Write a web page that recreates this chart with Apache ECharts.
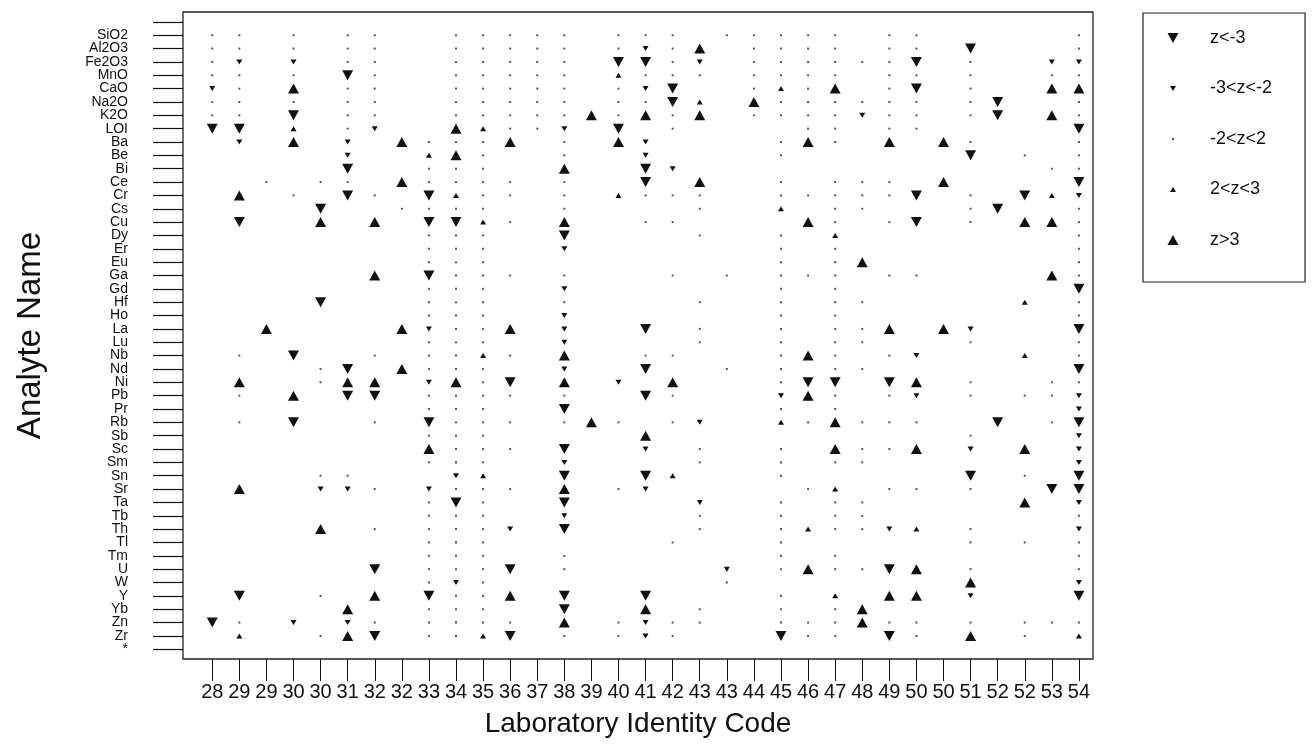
<!DOCTYPE html>
<html><head><meta charset="utf-8">
<script src="https://cdn.jsdelivr.net/npm/echarts@6/dist/echarts.min.js"></script>
<style>html,body{margin:0;padding:0;background:#fff}#chart{width:1316px;height:750px}</style>
</head><body><div id="chart"></div>
<script>
// x categories: laboratory identity codes (one per column)
const labCodes = ['28','29','29','30','30','31','32','32','33','34','35','36','37','38','39','40','41','42','43','43','44','45','46','47','48','49','50','50','51','52','52','53','54'];
// y categories: analytes (top to bottom)
const analytes = ['SiO2','Al2O3','Fe2O3','MnO','CaO','Na2O','K2O','LOI','Ba','Be','Bi','Ce','Cr','Cs','Cu','Dy','Er','Eu','Ga','Gd','Hf','Ho','La','Lu','Nb','Nd','Ni','Pb','Pr','Rb','Sb','Sc','Sm','Sn','Sr','Ta','Tb','Th','Tl','Tm','U','W','Y','Yb','Zn','Zr','*'];
// z-score classes
const classNames = ['z<-3','-3<z<-2','-2<z<2','2<z<3','z>3'];
const classCodes = ['D','d','o','u','U'];
// z-class per analyte (row) and lab (column): D z<-3, d -3..-2, o -2..2, u 2..3, U z>3, . no result
const zRows = [
  "oo.o. oo..o oooo. ooo.o oooo. oo... ..o",
  "oo.o. oo..o oooo. odoU. oooo. oo.D. ..o",
  "od.d. oo..o oooo. DDod. ooooo oD.o. .dd",
  "oo.o. Do..o oooo. uooo. oooo. oo.o. .oo",
  "do.U. oo..o oooo. odD.. ouoU. oD.o. .UU",
  "oo.o. oo..o oooo. ooDu. Uoooo oo.oD ..o",
  "oo.D. oo..o ooooU oUoU. ooood oo.oD .Uo",
  "DD.u. od..U uood. D.o.. ..oo. oo... ..D",
  ".d.U. d.Uoo oU.o. Ud... .oUo. U.Uo. ..o",
  "..... d..uU o..o. .d... .o... ...D. o.o",
  "..... D..oo o..U. .Dd.. ..... ..... .oo",
  "..o.o o.Uoo oo.o. .D.U. .o.oo o.U.. ..D",
  ".U.o. Do.Du oo.o. uooo. .oooo oD.o. Dud",
  "....D ..ooo o..o. ...o. .u.oo ...oD ..o",
  ".D..U .U.DD uo.U. .oo.. ..Uo. oD.o. UUo",
  "..... ...oo o..D. ...o. .o.u. ..... ..o",
  "..... ...oo o..d. ..... .o.o. ..... ..o",
  "..... ...oo o.... ..... .o.oU ..... ..o",
  "..... .U.Do oo.o. ..o.o .ooo. oo... .Uo",
  "..... ...oo o..d. ..... .o.o. ..... ..D",
  "....D ...oo o..o. ...o. .o.oo ..... u.o",
  "..... ...oo o..d. ..... .o.o. ..... ..o",
  "..U.. ..Udo oU.d. .D.o. .o.oo U.Ud. ..D",
  "..... ...oo o..d. ...o. .o.oo ...o. ..o",
  ".o.D. .o.oo uo.U. .oo.. .oUo. od... u.o",
  "....o D.Uoo o..d. .D..o .o.oo ..... ..D",
  ".U..o UU.dU oD.U. d.U.. .oDD. DU.o. .oo",
  ".o.U. DD.oo oo.o. .Do.. .dUo. od.o. ood",
  "..... ...oo o..D. ..... .o.o. ..... ..d",
  ".o.D. .o.Do oo.oU o.od. .uoUo oo..D .oD",
  "..... ...oo o.... .U... ..... ...o. ..d",
  "..... ...Uo oo.D. .d.o. .o.Uo oU.d. U.d",
  "..... ...oo o..d. ...o. .o.oo ..... ..d",
  "....o o...d u..D. .Du.. .o... ...D. o.D",
  ".U..d do.do oo.U. od... ..ou. oo.o. .DD",
  "..... ...oD o..D. ...d. .o.oo ..... U.d",
  "..... ...oo o..d. ...o. .o.oo ..... ..o",
  "....U .o.oo od.D. ...o. .ouoo du.o. ..d",
  "..... ...oo o.... ..o.. .o... ...o. o.o",
  "..... ...oo o..o. ..... .o.o. ..... ..o",
  "..... .D.oo oD.o. ....d .oUoo DU.o. ..o",
  "..... ...od o.... ....o ..... ...U. ..d",
  ".D..o .U.Do oU.D. .D... .o.u. UU.d. ..D",
  "..... U..oo o..D. .U.o. .o.oU ..... ...",
  "Do.d. do.oo oo.U. odoo. .oooU oo.o. ooo",
  ".u..o UD.oo uD.o. odo.. .Doo. Do.U. o.u",
  "..... ..... ..... ..... ..... ..... ..."
];

const xTicks = labCodes.map((_, i) => i);
const yTicks = [-1].concat(analytes.map((_, i) => i));
const yEven = analytes.map((_, i) => i).filter(i => i % 2 === 0);
const yOdd = analytes.map((_, i) => i).filter(i => i % 2 === 1);

const styles = {
  D: {symbol: 'triangle', size: [11, 10], rotate: 180, color: '#111'},
  d: {symbol: 'triangle', size: [6, 5], rotate: 180, color: '#111'},
  o: {symbol: 'rect', size: 2, rotate: 0, color: '#555'},
  u: {symbol: 'triangle', size: [6, 5], rotate: 0, color: '#111'},
  U: {symbol: 'triangle', size: [11, 10], rotate: 0, color: '#111'}
};
const pad = 'path://M0,0M52,22';
const legendIcons = {
  D: pad + 'M14.5,6L25.5,6L20,16Z',
  d: pad + 'M17,8.5L23,8.5L20,13.5Z',
  o: pad + 'M19,10L21,10L21,12L19,12Z',
  u: pad + 'M20,8.5L23,13.5L17,13.5Z',
  U: pad + 'M20,6L25.5,16L14.5,16Z'
};

const series = classCodes.map((code, k) => {
  const data = [];
  zRows.forEach((row, r) => {
    const s = row.replace(/ /g, '');
    for (let c = 0; c < s.length; c++) if (s[c] === code) data.push([c, r]);
  });
  const st = styles[code];
  return {
    name: classNames[k], type: 'scatter', data: data, xAxisIndex: 0, yAxisIndex: 0,
    symbol: st.symbol, symbolSize: st.size, symbolRotate: st.rotate,
    itemStyle: {color: st.color, opacity: 1},
    silent: true, animation: false
  };
});

const yBase = {
  type: 'value', inverse: true, min: -1.74, max: 46.73, position: 'left', offset: 0,
  axisLine: {show: false, onZero: false}, splitLine: {show: false}
};
const yLabelStyle = {fontSize: 14, margin: 55, color: '#111', showMinLabel: true, showMaxLabel: true, hideOverlap: false,
  formatter: v => analytes[Math.round(v)]};

const chart = echarts.init(document.getElementById('chart'), null, {renderer: 'canvas'});
chart.setOption({
  animation: false,
  backgroundColor: '#fff',
  textStyle: {fontFamily: 'Liberation Sans, Arial, sans-serif', color: '#000'},
  grid: {left: 183, right: 223, top: 12, bottom: 91, show: true, borderColor: '#222', borderWidth: 1.3, containLabel: false, outerBoundsMode: 'none'},
  legend: {
    orient: 'vertical', left: 1143, top: 13,
    padding: [14, 33, 31, 10],
    itemWidth: 52, itemHeight: 22, itemGap: 28.5,
    symbolRotate: 0, selectedMode: false,
    borderColor: '#222', borderWidth: 1.2,
    textStyle: {fontSize: 18, color: '#111', lineHeight: 22, fontFamily: 'Liberation Sans, Arial, sans-serif'},
    data: classCodes.map((code, k) => ({name: classNames[k], icon: legendIcons[code]}))
  },
  xAxis: {
    type: 'value', min: -1.08, max: 32.52, position: 'bottom',
    axisLine: {show: false, onZero: false}, splitLine: {show: false},
    axisTick: {show: true, customValues: xTicks, length: 22, lineStyle: {color: '#111', width: 1}},
    axisLabel: {customValues: xTicks, formatter: v => labCodes[Math.round(v)], fontSize: 20, lineHeight: 20, margin: 23, color: '#111', showMinLabel: true, showMaxLabel: true, hideOverlap: false},
    name: 'Laboratory Identity Code', nameLocation: 'middle', nameGap: 51,
    nameTextStyle: {fontSize: 28, color: '#111'}
  },
  yAxis: [
    Object.assign({}, yBase, {
      axisTick: {show: true, customValues: yTicks, length: 30, lineStyle: {color: '#111', width: 1.2}},
      axisLabel: Object.assign({customValues: yEven}, yLabelStyle),
      name: 'Analyte Name', nameLocation: 'middle', nameGap: 136, nameRotate: 90,
      nameTextStyle: {fontSize: 33, color: '#111'}
    }),
    Object.assign({}, yBase, {
      axisTick: {show: false},
      axisLabel: Object.assign({customValues: yOdd}, yLabelStyle)
    })
  ],
  series: series
});
</script>
</body></html>
